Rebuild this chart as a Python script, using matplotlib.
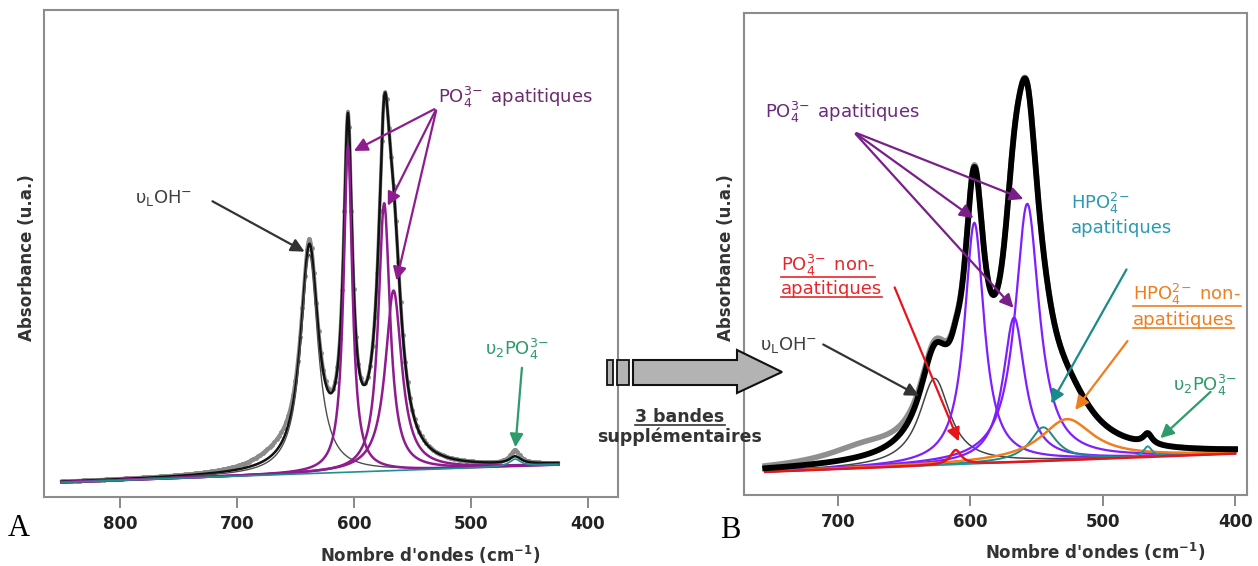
import numpy as np
import matplotlib.pyplot as plt
from matplotlib.lines import Line2D
from matplotlib.patches import Polygon, Rectangle

W, H = 1258, 566

# Spectrum A: fitted bands as [centre (cm-1), height, half width]
a_range = [850, 425]
a_baseline = [0.030, 0.066]
a_oh = [638, 0.45, 9.0]
a_po4 = [[605, 0.67, 4.5], [574, 0.55, 6.0], [566, 0.37, 8.5]]
a_v2 = [462, 0.015, 6.0]
a_excess = [[665, 0.022, 25.0], [462, 0.013, 4.0]]

# Spectrum B: same band model, 3 extra bands
b_range = [755, 400]
b_baseline = [0.048, 0.086]
b_oh = [627, 0.18, 14.0]
b_po4 = [[597, 0.50, 9.0], [567, 0.30, 10.0], [557, 0.535, 11.0]]
b_po4_non = [611, 0.03, 5.0]
b_hpo4 = [545, 0.07, 12.0]
b_hpo4_non = [527, 0.085, 24.0]
b_v2 = [466, 0.022, 4.0]
b_excess = [[680, 0.028, 35.0]]

a_ticks = [800, 700, 600, 500, 400]
b_ticks = [700, 600, 500, 400]

GRID_A = np.arange(a_range[0], a_range[1] - 0.5, -0.5)
GRID_B = np.arange(b_range[0], b_range[1] - 0.5, -0.5)


def band(x, c, h, w):
    return h / (1 + ((x - c) / w) ** 2)


def base(x, rng, b):
    return np.interp(x, [rng[1], rng[0]], [b[1], b[0]])


def fp(x, y):
    # figure pixels (top-left origin) -> figure fraction
    return x / W, 1 - y / H


fig = plt.figure(figsize=(W / 100, H / 100), dpi=100)
ax_a = fig.add_axes([44 / W, 1 - 497 / H, (618 - 44) / W, (497 - 10) / H])
ax_b = fig.add_axes([744 / W, 1 - 495 / H, (1247 - 744) / W, (495 - 13) / H])

for ax, lim, ticks in [(ax_a, (865, 374), a_ticks), (ax_b, (771, 391), b_ticks)]:
    ax.set_xlim(*lim)
    ax.set_ylim(0, 1)
    ax.set_yticks([])
    ax.set_xticks(ticks)
    ax.set_xticklabels([str(t) for t in ticks], fontsize=12, fontweight="bold", color="#222222")
    ax.tick_params(axis="x", direction="out", length=8, width=1.3, color="#808080", pad=5)
    for s in ax.spines.values():
        s.set_color("#8c8c8c")
        s.set_linewidth(1.5)

# ---- panel A
x = GRID_A
bl = base(x, a_range, a_baseline)
oh = band(x, *a_oh)
po4 = [band(x, *p) for p in a_po4]
v2 = band(x, *a_v2)
fit = bl + oh + sum(po4) + v2
exp = fit + sum(band(x, *e) for e in a_excess)

ax_a.plot(x, exp, color="#8a8a8a", lw=2.5, marker="o", ms=2.5, markevery=4, zorder=2)
ax_a.plot(x, fit, color="#111111", lw=1.8, zorder=3)
ax_a.plot(x, bl + oh, color="#4d4d4d", lw=1.0, zorder=4)
for p in po4:
    ax_a.plot(x, bl + p, color="#8e1c8e", lw=1.8, zorder=4)
ax_a.plot(x, bl + v2, color="#1f8f8f", lw=1.2, zorder=4)

ax_a.text(787, 0.614, "υ$_\\mathrm{L}$OH$^{-}$", fontsize=13, color="#404040", va="center")
ax_a.annotate("", xy=(640, 0.501), xytext=(723, 0.61),
              arrowprops=dict(arrowstyle="-|>", color="#333333", lw=1.6, mutation_scale=20))
ax_a.text(528, 0.821, "PO$_4^{3\\!-}$ apatitiques", fontsize=13, color="#6e2a6e", va="center")
for tip in [(602, 0.708), (572, 0.593), (564, 0.439)]:
    ax_a.annotate("", xy=tip, xytext=(529, 0.799),
                  arrowprops=dict(arrowstyle="-|>", color="#8e1c8e", lw=1.6, mutation_scale=20))
ax_a.text(488, 0.302, "υ$_2$PO$_4^{3\\!-}$", fontsize=13, color="#2e9b6a", va="center")
ax_a.annotate("", xy=(462, 0.0965), xytext=(456, 0.271),
              arrowprops=dict(arrowstyle="-|>", color="#2e9b6a", lw=1.6, mutation_scale=20))

# ---- panel B
x = GRID_B
bl = base(x, b_range, b_baseline)
oh = band(x, *b_oh)
po4 = [band(x, *p) for p in b_po4]
po4_non = band(x, *b_po4_non)
hpo4 = band(x, *b_hpo4)
hpo4_non = band(x, *b_hpo4_non)
v2 = band(x, *b_v2)
fit = bl + oh + sum(po4) + po4_non + hpo4 + hpo4_non + v2
exp = fit + sum(band(x, *e) for e in b_excess)

ax_b.plot(x, exp, color="#8f8f8f", lw=4, zorder=2)
ax_b.plot(x, bl + oh, color="#444444", lw=1.1, zorder=3)
for p in po4:
    ax_b.plot(x, bl + p, color="#7f1fff", lw=1.6, zorder=3)
ax_b.plot(x, bl + hpo4, color="#1a8a8a", lw=1.4, zorder=3)
ax_b.plot(x, bl + hpo4_non, color="#f07d1e", lw=1.8, zorder=3)
ax_b.plot(x, bl + v2, color="#1a9a9a", lw=1.4, zorder=3)
ax_b.plot(x, bl + po4_non, color="#e8141b", lw=1.8, zorder=3)
ax_b.plot(x, fit, color="#000000", lw=4.2, zorder=4)

ax_b.text(755, 0.793, "PO$_4^{3\\!-}$ apatitiques", fontsize=13, color="#6b2a7b", va="center")
for tip in [(596, 0.571), (558, 0.612), (566, 0.384)]:
    ax_b.annotate("", xy=tip, xytext=(688, 0.753),
                  arrowprops=dict(arrowstyle="-|>", color="#7a1f8a", lw=1.6, mutation_scale=20), zorder=6)
ax_b.text(524, 0.605, "HPO$_4^{2\\!-}$", fontsize=13, color="#2b9ab0", va="center")
ax_b.text(524, 0.553, "apatitiques", fontsize=13, color="#2b9ab0", va="center")
ax_b.annotate("", xy=(540, 0.185), xytext=(481, 0.473),
              arrowprops=dict(arrowstyle="-|>", color="#1a8a8a", lw=1.6, mutation_scale=20), zorder=6)

under = []
under.append(ax_b.text(743, 0.477, "PO$_4^{3\\!-}$ non-", fontsize=13, color="#e8262b", va="center"))
under.append(ax_b.text(743, 0.427, "apatitiques", fontsize=13, color="#e8262b", va="center"))
ax_b.annotate("", xy=(608, 0.106), xytext=(658, 0.436),
              arrowprops=dict(arrowstyle="-|>", color="#e8141b", lw=1.6, mutation_scale=20), zorder=6)
under.append(ax_b.text(477, 0.417, "HPO$_4^{2\\!-}$ non-", fontsize=13, color="#f07d1e", va="center"))
under.append(ax_b.text(477, 0.363, "apatitiques", fontsize=13, color="#f07d1e", va="center"))
ax_b.annotate("", xy=(522, 0.172), xytext=(480, 0.324),
              arrowprops=dict(arrowstyle="-|>", color="#f07d1e", lw=1.6, mutation_scale=20), zorder=6)

ax_b.text(759, 0.311, "υ$_\\mathrm{L}$OH$^{-}$", fontsize=13, color="#404040", va="center")
ax_b.annotate("", xy=(637, 0.203), xytext=(713, 0.315),
              arrowprops=dict(arrowstyle="-|>", color="#333333", lw=1.6, mutation_scale=20), zorder=6)
ax_b.text(447, 0.228, "υ$_2$PO$_4^{3\\!-}$", fontsize=13, color="#2e9b6a", va="center")
ax_b.annotate("", xy=(458, 0.114), xytext=(417, 0.218),
              arrowprops=dict(arrowstyle="-|>", color="#2e9b6a", lw=1.6, mutation_scale=20), zorder=6)

# axis titles
for cx, cy in [(430, 555), (1095, 552)]:
    fig.text(*fp(cx, cy), "Nombre d'ondes (cm$^{\\mathbf{-1}}$)", fontsize=12, fontweight="bold",
             color="#333333", ha="center", va="center")
for cx in [27, 726]:
    fig.text(*fp(cx, 258), "Absorbance (u.a.)", fontsize=12, fontweight="bold", color="#333333",
             ha="center", va="center", rotation=90)
fig.text(*fp(19, 529), "A", fontsize=22, family="Liberation Serif", ha="center", va="center")
fig.text(*fp(730, 531), "B", fontsize=22, family="Liberation Serif", ha="center", va="center")

# arrow between the panels
arrow_px = [(633, 360), (737, 360), (737, 350), (782, 372), (737, 393), (737, 385), (633, 385)]
fig.patches.append(Polygon([fp(*p) for p in arrow_px], closed=True, facecolor="#b3b3b3",
                           edgecolor="#111111", lw=1.5, transform=fig.transFigure))
for x0, x1 in [(607, 613), (617, 629)]:
    fig.patches.append(Rectangle(fp(x0, 385), (x1 - x0) / W, 25 / H, facecolor="#b3b3b3",
                                 edgecolor="#111111", lw=1.3, transform=fig.transFigure))
under.append(fig.text(*fp(680, 417), "3 bandes", fontsize=12.5, fontweight="bold",
                      color="#333333", ha="center", va="center"))
fig.text(*fp(680, 437), "supplémentaires", fontsize=12.5, fontweight="bold",
         color="#333333", ha="center", va="center")

# underline the labelled texts
fig.canvas.draw()
r = fig.canvas.get_renderer()
for t in under:
    bb = t.get_window_extent(r)
    fig.add_artist(Line2D([bb.x0 / W, bb.x1 / W], [(bb.y0 + 1) / H] * 2, color=t.get_color(),
                          lw=1.2, transform=fig.transFigure))

fig.savefig("out.png", dpi=100)
